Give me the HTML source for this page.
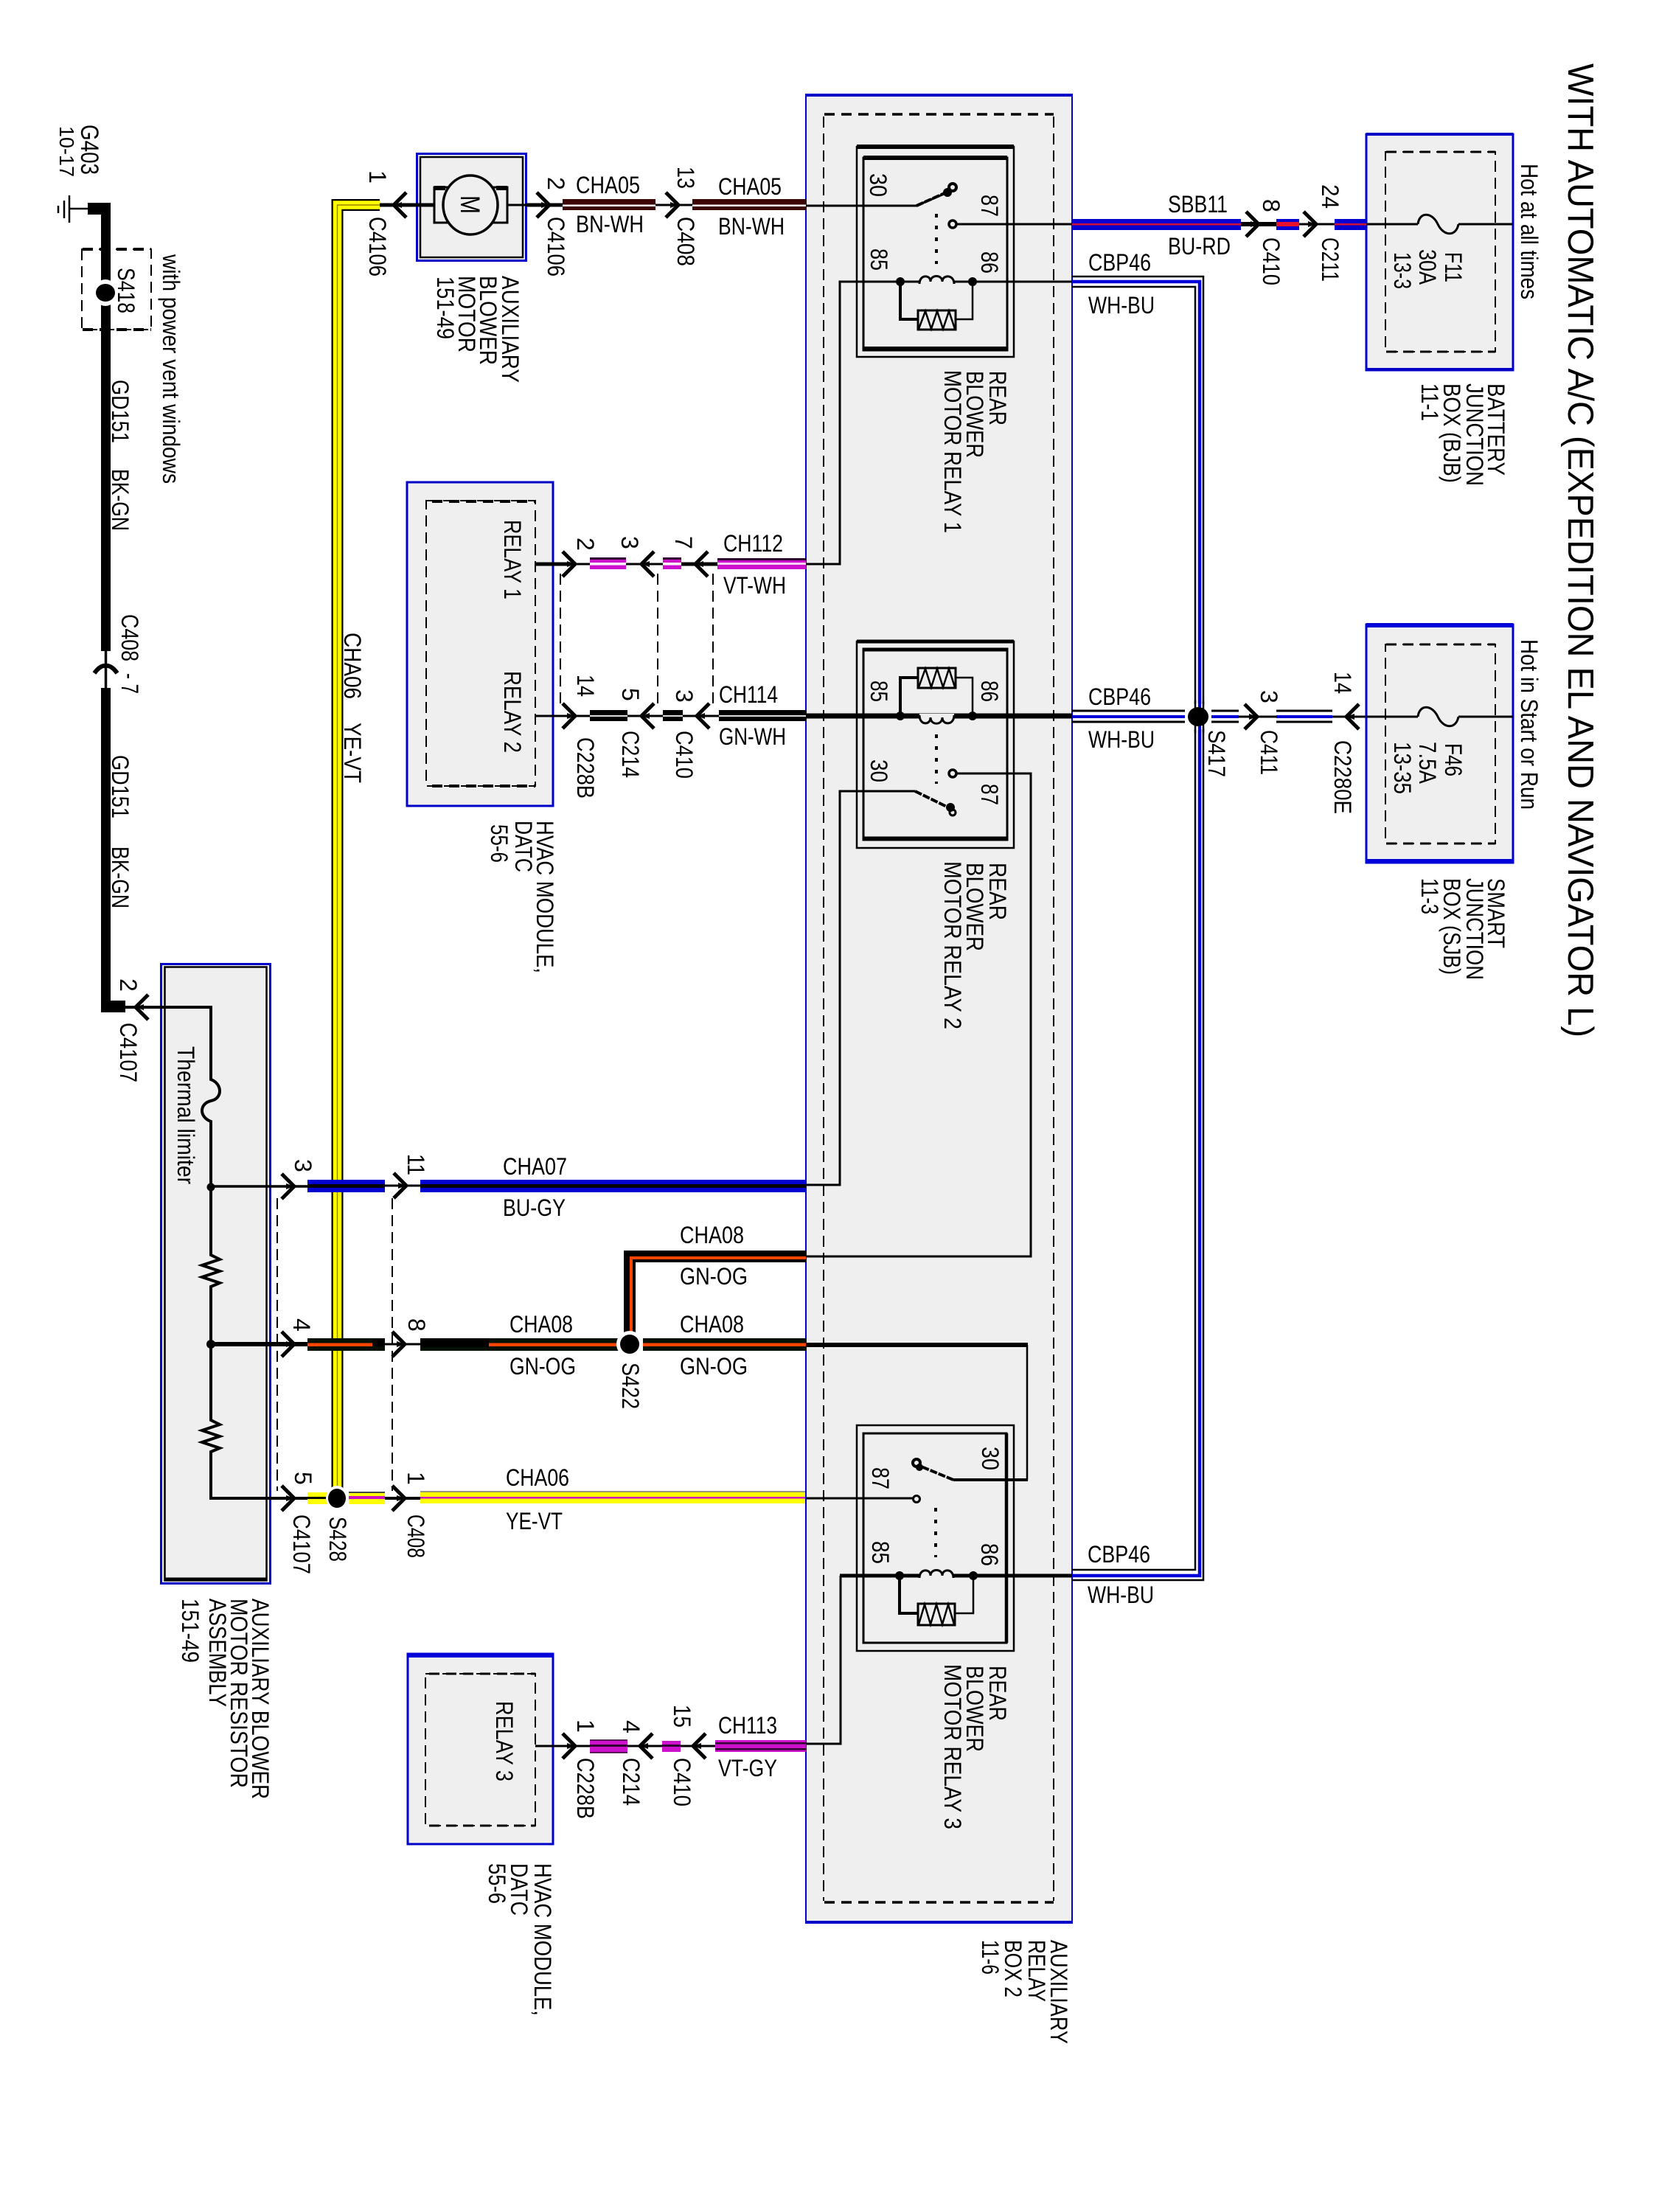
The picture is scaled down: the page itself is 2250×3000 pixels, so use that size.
<!DOCTYPE html>
<html><head><meta charset="utf-8"><title>Wiring diagram</title>
<style>
html,body{margin:0;padding:0;background:#fff}
svg{display:block}
text{font-family:"Liberation Sans",sans-serif;font-size:32px;fill:#000}
.w{fill:none;stroke:#000}
.box{fill:#efefef;stroke:#0000c8;stroke-width:3}
.ds{fill:none;stroke:#000;stroke-width:2;stroke-dasharray:15 8}
.dt{fill:none;stroke:#000;stroke-dasharray:14 9}
.f{fill:#000}
.t3{fill:none;stroke:#000;stroke-width:3}
</style></head><body>
<svg xmlns="http://www.w3.org/2000/svg" width="2250" height="3000" viewBox="0 0 2250 3000">
<defs>
<g id="cr"><path d="M-10,-17 Q-1,-8 7,0 Q-1,8 -10,17" fill="none" stroke="#000" stroke-width="5"/><path d="M-4,-4 L7,0 L-4,4 Z" fill="#000"/></g>
<g id="cl"><path d="M10,-17 Q1,-8 -7,0 Q1,8 10,17" fill="none" stroke="#000" stroke-width="5"/><path d="M4,-4 L-7,0 L4,4 Z" fill="#000"/></g>
</defs>
<rect width="2250" height="3000" fill="#fff"/>

<!-- Aux relay box -->
<rect class="box" x="1093" y="129" width="361" height="2479" style="stroke-width:2"/>
<path d="M1092,129H1455M1092,2607H1455" stroke="#0000c8" stroke-width="4"/>
<path class="ds" d="M1117,158V2578M1429,158V2578"/>
<path class="dt" d="M1118,155H1429M1118,2580H1429" stroke-width="3.5"/>

<!-- Relay boxes -->
<rect x="1162" y="199" width="213" height="285" fill="#efefef" stroke="#000" stroke-width="2.5"/>
<rect x="1171" y="214" width="195" height="261" fill="#efefef" stroke="#000" stroke-width="3"/>
<path d="M1162,199H1375M1171,214H1366M1171,473H1366" stroke="#000" stroke-width="6"/>
<rect x="1162" y="870" width="213" height="280" fill="#efefef" stroke="#000" stroke-width="2.5"/>
<rect x="1171" y="880" width="195" height="259" fill="#efefef" stroke="#000" stroke-width="3"/>
<path d="M1162,870H1375M1171,881H1366M1171,1137H1366" stroke="#000" stroke-width="5"/>
<rect x="1162" y="1933" width="213" height="306" fill="#efefef" stroke="#000" stroke-width="2.5"/>
<rect x="1171" y="1944" width="194" height="284" fill="#efefef" stroke="#000" stroke-width="3"/>
<path d="M1365,1944V2228" stroke="#000" stroke-width="4.5"/>

<!-- Relay 1 internals -->
<path class="t3" d="M1093,279H1243L1285,261"/>
<path d="M1243,279L1290,258" stroke="#000" stroke-width="4" stroke-dasharray="10 2"/>
<circle cx="1292" cy="254" r="5" fill="#efefef" stroke="#000" stroke-width="4"/>
<circle cx="1285" cy="261" r="6" class="f"/>
<path class="t3" d="M1296,304H1853"/>
<circle cx="1292" cy="304" r="5" fill="#efefef" stroke="#000" stroke-width="3.5"/>
<path d="M1270,290V358" stroke="#000" stroke-width="4" stroke-dasharray="5 11"/>
<path class="t3" d="M1093,765H1139V382H1247M1294,382H1454"/>
<path class="t3" d="M1247,385C1247,372 1262,372 1262,382C1262,372 1278,372 1278,382C1278,372 1294,372 1294,385"/>
<circle cx="1221" cy="382" r="6" class="f"/><circle cx="1319" cy="382" r="6" class="f"/>
<path d="M1221,382V433H1245" class="w" stroke-width="4"/><path d="M1319,382V433H1296" class="w" stroke-width="2.5"/>
<rect x="1245" y="421" width="51" height="26" fill="#efefef" stroke="#000" stroke-width="3"/>
<path d="M1246,446L1255,422L1263,446L1271,422L1279,446L1287,422L1295,446" class="w" stroke-width="2.5"/>

<!-- Relay 2 internals -->
<path d="M1093,971H1454" stroke="#000" stroke-width="7"/>
<path d="M1247,972H1294" stroke="#efefef" stroke-width="8"/>
<path class="t3" d="M1247,970C1247,984 1262,984 1262,973C1262,984 1278,984 1278,973C1278,984 1294,984 1294,970"/>
<circle cx="1221" cy="971" r="6" class="f"/><circle cx="1319" cy="971" r="6" class="f"/>
<path d="M1221,971V919H1245" class="w" stroke-width="4"/><path d="M1319,971V919H1296" class="w" stroke-width="2.5"/>
<rect x="1245" y="906" width="51" height="27" fill="#efefef" stroke="#000" stroke-width="3"/>
<path d="M1246,932L1255,907L1263,932L1271,907L1279,932L1287,907L1295,932" class="w" stroke-width="2.5"/>
<path d="M1270,996V1063" stroke="#000" stroke-width="4" stroke-dasharray="5 11"/>
<path class="t3" d="M1296,1049H1398V1704H1093"/>
<circle cx="1292" cy="1049" r="5" fill="#efefef" stroke="#000" stroke-width="3.5"/>
<path class="t3" d="M1093,1607H1139V1073H1241"/>
<path d="M1241,1073L1290,1097" stroke="#000" stroke-width="4" stroke-dasharray="10 2"/>
<circle cx="1292" cy="1102" r="4" fill="#efefef" stroke="#000" stroke-width="3"/>
<circle cx="1289" cy="1095" r="6" class="f"/>

<!-- Relay 3 internals -->
<path d="M1093,1824H1394" stroke="#000" stroke-width="6"/>
<path class="w" stroke-width="2.5" d="M1393,1824V2007"/>
<path d="M1394,2007H1293" stroke="#000" stroke-width="4"/>
<path d="M1293,2007L1247,1988" stroke="#000" stroke-width="4" stroke-dasharray="10 2"/>
<circle cx="1243" cy="1984" r="5" fill="#efefef" stroke="#000" stroke-width="4"/>
<circle cx="1247" cy="1990" r="5" class="f"/>
<path class="t3" d="M1093,2032H1239"/>
<circle cx="1243" cy="2033" r="4.5" fill="#efefef" stroke="#000" stroke-width="3"/>
<path d="M1269,2045V2112" stroke="#000" stroke-width="4" stroke-dasharray="5 11"/>
<path d="M1139,2137H1454" stroke="#000" stroke-width="5"/>
<path d="M1247,2137H1293" stroke="#efefef" stroke-width="7"/>
<path class="t3" d="M1247,2140C1247,2127 1262,2127 1262,2137C1262,2127 1278,2127 1278,2137C1278,2127 1293,2127 1293,2140"/>
<circle cx="1220" cy="2137" r="6" class="f"/><circle cx="1320" cy="2137" r="6" class="f"/>
<path d="M1220,2137V2188H1245" class="w" stroke-width="4"/><path d="M1320,2137V2188H1295" class="w" stroke-width="2.5"/>
<rect x="1245" y="2175" width="50" height="29" fill="#efefef" stroke="#000" stroke-width="3"/>
<path d="M1246,2203L1254,2176L1262,2203L1270,2176L1278,2203L1286,2176L1294,2203" class="w" stroke-width="2.5"/>
<path class="t3" d="M1140,2137V2365H1093"/>

<!-- Triple CBP46 loop -->
<path class="w" stroke-width="2.5" d="M1454,375H1632V2143H1454"/>
<path fill="none" stroke="#0000d8" stroke-width="4.5" d="M1454,382H1627V2137H1454"/>
<path class="w" stroke-width="2.5" d="M1454,389H1621V2129H1454"/>

<!-- Mid CBP46 -->
<path d="M1454,964H1607M1454,979H1607M1643,964H1680M1643,979H1680M1731,964H1807M1731,979H1807" stroke="#000" stroke-width="3"/>
<path d="M1454,972H1607M1643,972H1680M1731,972H1807" stroke="#0000d8" stroke-width="4"/>
<path d="M1680,972H1731M1807,972H1853" stroke="#000" stroke-width="3"/>
<ellipse cx="1625" cy="972" rx="18" ry="18" fill="#fff"/>
<path d="M1621,950V994M1632,950V994" stroke="#000" stroke-width="2.5"/>
<path d="M1627,950V994" stroke="#0000d8" stroke-width="4"/>
<ellipse cx="1625" cy="972" rx="14" ry="13" class="f"/>

<!-- Junction boxes -->
<rect class="box" x="1853" y="182" width="199" height="320"/>
<path d="M1853,182H2052M1853,501H2052" stroke="#0000c8" stroke-width="4"/>
<rect class="ds" x="1879" y="206" width="149" height="271"/>
<path class="dt" d="M1880,206H2028M1880,477H2028" stroke-width="3"/>
<path d="M1853,304H1923M1978,304H2052" stroke="#000" stroke-width="3"/>
<path class="t3" d="M1923,304C1925,287 1942,287 1950,304C1958,321 1975,321 1978,304"/>

<rect class="box" x="1853" y="847" width="199" height="323"/>
<path d="M1853,848H2052M1853,1168H2052" stroke="#0000d8" stroke-width="6"/>
<rect class="ds" x="1879" y="874" width="149" height="270"/>
<path class="dt" d="M1880,874H2028M1880,1144H2028" stroke-width="3"/>
<path d="M1853,972H1923M1978,972H2052" stroke="#000" stroke-width="3"/>
<path class="t3" d="M1923,972C1925,955 1942,955 1950,972C1958,989 1975,989 1978,972"/>

<!-- SBB11 wire -->
<rect x="1454" y="297" width="229" height="15" fill="#0000d0"/>
<rect x="1454" y="303" width="229" height="2.5" fill="#d0103a"/>
<path d="M1683,304H1731" stroke="#000" stroke-width="6"/>
<rect x="1731" y="297" width="31" height="15" fill="#0000d0"/><rect x="1731" y="301" width="31" height="6" fill="#e8102a"/>
<path d="M1762,304H1810" stroke="#000" stroke-width="3"/>
<rect x="1810" y="297" width="43" height="15" fill="#0000d0"/><rect x="1810" y="303" width="43" height="2.5" fill="#d0103a"/>
<use href="#cr" x="1700" y="304"/><use href="#cr" x="1778" y="304"/>
<use href="#cr" x="1698" y="972"/><use href="#cl" x="1833" y="972"/>

<!-- Motor -->
<rect x="565.5" y="208.5" width="148" height="145" fill="#efefef" stroke="#0000c8" stroke-width="3"/>
<rect x="570" y="213" width="139" height="136" fill="none" stroke="#000" stroke-width="2.5"/>
<path d="M589,254V302H688V254Z" fill="#efefef" stroke="#000" stroke-width="3"/>
<path d="M589,255H604M673,255H688" stroke="#000" stroke-width="6"/>
<ellipse cx="638" cy="278" rx="37" ry="40" fill="#efefef" stroke="#000" stroke-width="3.5"/>
<path d="M515,278H589" stroke="#000" stroke-width="5"/>
<path d="M688,278H714" stroke="#000" stroke-width="3"/>
<path d="M714,278H763" stroke="#000" stroke-width="5"/>
<text transform="translate(625,265) rotate(90)" textLength="25" lengthAdjust="spacingAndGlyphs" style="font-size:37px">M</text>

<!-- CHA05 -->
<rect x="763" y="270" width="126" height="15" fill="#3c0505"/><rect x="763" y="277.5" width="126" height="2.5" fill="#fff"/>
<path d="M889,278H939" stroke="#000" stroke-width="3"/>
<rect x="939" y="270" width="154" height="15" fill="#3c0505"/><rect x="939" y="277.5" width="154" height="2.5" fill="#fff"/>
<use href="#cl" x="541" y="278"/><use href="#cr" x="738" y="278"/><use href="#cr" x="913" y="278"/>

<!-- CHA06 long -->
<path d="M515,278H457.500V2032" class="w" stroke-width="16"/>
<path d="M515,278H457.500V2032" fill="none" stroke="#ffff00" stroke-width="11.500"/>
<path d="M515,278H457.500V2032" fill="none" stroke="#9a8000" stroke-width="1.500"/>

<!-- Ground wire -->
<path d="M143.500,275V883M143.500,933V1365" stroke="#000" stroke-width="13"/>
<rect x="119" y="275" width="31" height="16" class="f"/>
<rect x="137" y="1357" width="33" height="16" class="f"/>
<path d="M143.500,883V933" stroke="#000" stroke-width="3.500"/>
<path d="M128,913Q136,902 143.500,903Q151,902 159,913" fill="none" stroke="#000" stroke-width="6"/>
<path d="M94,283H119" stroke="#000" stroke-width="2.500"/>
<path d="M94,265V302M87,272V296M79,279V289" stroke="#000" stroke-width="2.500"/>
<rect x="111" y="338" width="94" height="109" class="ds"/>
<path class="dt" d="M112,338H205M112,447H205" stroke-width="4"/>
<ellipse cx="143" cy="397" rx="16" ry="18" fill="#fff"/>
<ellipse cx="143" cy="397" rx="13" ry="12" class="f"/>

<!-- Resistor assembly -->
<rect x="218.500" y="1307.500" width="148" height="840" fill="#efefef" stroke="#0000c8" stroke-width="3"/>
<rect x="223.500" y="1311.500" width="138" height="832" fill="none" stroke="#000" stroke-width="2.500"/>
<path d="M223,2142H362" stroke="#000" stroke-width="5"/>
<path class="w" stroke-width="4" d="M170,1366H286V1464C302,1470 302,1490 286,1493C270,1497 270,1515 286,1521V1702L298,1708L274,1716L298,1724L274,1732L298,1740L286,1745V1926L298,1932L274,1940L298,1948L274,1956L298,1964L286,1969V2032H417"/>
<circle cx="286" cy="1610" r="5.500" class="f"/><circle cx="286" cy="1823" r="6" class="f"/>
<path d="M286,1609H417" stroke="#000" stroke-width="3.500"/>
<path d="M286,1823H417" stroke="#000" stroke-width="6"/>
<use href="#cl" x="191" y="1366"/>
<path class="ds" d="M376,1625V2022M532,1625V2022"/>

<!-- Row 3 (CHA07) -->
<rect x="417" y="1600" width="105" height="17" fill="#0000d0"/><rect x="417" y="1606" width="105" height="5" class="f"/>
<rect x="570" y="1600" width="523" height="17" fill="#0000d0"/><rect x="570" y="1606" width="523" height="5" class="f"/>
<path d="M522,1608H570" stroke="#000" stroke-width="3"/>
<!-- Row 4 -->
<rect x="417" y="1815" width="105" height="17" fill="#041004"/><rect x="417" y="1821.500" width="105" height="4.500" fill="#ff4500"/>
<rect x="505" y="1816" width="17" height="10" class="f"/>
<path d="M522,1823H570" stroke="#000" stroke-width="3"/>
<rect x="570" y="1815" width="270" height="17" fill="#041004"/><rect x="570" y="1821.500" width="270" height="4.500" fill="#ff4500"/>
<rect x="570" y="1815" width="93" height="12" class="f"/>
<rect x="872" y="1815" width="221" height="17" fill="#041004"/><rect x="872" y="1821.500" width="221" height="4.500" fill="#ff4500"/>
<path d="M1093,1704H854V1812" class="w" stroke-width="16"/>
<path d="M1093,1706H856V1812" fill="none" stroke="#ff4500" stroke-width="4"/>
<ellipse cx="854" cy="1823" rx="18" ry="18" fill="#fff"/>
<ellipse cx="854" cy="1823" rx="13" ry="13" class="f"/>
<!-- Row 5 -->
<rect x="417" y="2024" width="28" height="16" fill="#ffff00"/><rect x="417" y="2030" width="28" height="3" fill="#000"/>
<ellipse cx="457" cy="2032" rx="15" ry="17" fill="#fff"/>
<ellipse cx="457" cy="2032" rx="12" ry="13" class="f"/>
<rect x="473" y="2024" width="49" height="16" fill="#ffff00"/><rect x="473" y="2029" width="49" height="4" fill="#d010c0"/>
<path d="M473,2024H522" stroke="#444" stroke-width="2"/>
<path d="M522,2032H570" stroke="#000" stroke-width="4"/>
<rect x="570" y="2023" width="522" height="16" fill="#ffff00"/><rect x="570" y="2030" width="522" height="2.500" fill="#d010c0"/>
<path d="M570,2023H1092" stroke="#777" stroke-width="1.500"/>
<use href="#cr" x="392" y="1609"/><use href="#cr" x="544" y="1608"/>
<use href="#cr" x="392" y="1823"/><use href="#cr" x="542" y="1823"/>
<use href="#cr" x="392" y="2032"/><use href="#cr" x="542" y="2032"/>

<!-- HVAC module upper -->
<rect class="box" x="552" y="654" width="198" height="439"/>
<rect class="ds" x="578" y="679" width="148" height="387"/>
<path class="dt" d="M586,680H726M586,1066H726" stroke-width="4"/>
<path d="M726,765H774" stroke="#000" stroke-width="5"/>
<path d="M774,765H800M849,765H899" stroke="#000" stroke-width="3"/>
<path d="M924,765H973" stroke="#000" stroke-width="5"/>
<rect x="800" y="756" width="49" height="16" fill="#cc10cc"/><rect x="800" y="756" width="49" height="3" fill="#300030"/><rect x="800" y="763" width="49" height="3.500" fill="#fff"/>
<rect x="899" y="756" width="25" height="16" fill="#cc10cc"/><rect x="899" y="756" width="25" height="3" fill="#300030"/><rect x="899" y="763" width="25" height="3.500" fill="#fff"/>
<rect x="973" y="757" width="120" height="15" fill="#cc10cc"/><rect x="973" y="757" width="120" height="3" fill="#300030"/><rect x="973" y="763" width="120" height="3" fill="#f8d0f8"/>
<use href="#cr" x="773" y="765"/><use href="#cl" x="877" y="765"/><use href="#cl" x="950" y="765"/>
<path class="ds" d="M760,778V958M892,778V958M967,778V958"/>
<path d="M726,971H800M851,971H899M926,971H975" stroke="#000" stroke-width="3"/>
<rect x="800" y="963" width="51" height="15" class="f"/><rect x="800" y="970" width="51" height="2" fill="#ddd"/>
<rect x="899" y="963" width="27" height="15" class="f"/><rect x="899" y="970" width="27" height="2" fill="#ddd"/>
<rect x="975" y="963" width="118" height="15" class="f"/><rect x="975" y="970" width="118" height="2" fill="#ddd"/>
<use href="#cr" x="773" y="971"/><use href="#cl" x="877" y="971"/><use href="#cl" x="952" y="971"/>

<!-- HVAC module lower -->
<rect class="box" x="553" y="2243" width="197" height="258"/>
<path d="M552,2245H751" stroke="#0000d8" stroke-width="6"/>
<rect class="ds" x="577" y="2270" width="149" height="206"/>
<path class="dt" d="M582,2270H726M582,2476H726" stroke-width="3"/>
<path d="M726,2368H800M851,2368H898M923,2368H970" stroke="#000" stroke-width="3"/>
<rect x="800" y="2360" width="51" height="17" fill="#cc10cc"/><rect x="800" y="2366" width="51" height="3" fill="#300030"/>
<path d="M800,2360H851M800,2377H851" stroke="#300030" stroke-width="1.500"/>
<rect x="898" y="2361" width="25" height="15" fill="#cc10cc"/><rect x="898" y="2366" width="25" height="3" fill="#300030"/>
<rect x="970" y="2360" width="123" height="16" fill="#cc10cc"/><rect x="970" y="2363" width="123" height="2.500" fill="#300030"/><rect x="970" y="2371" width="123" height="2.500" fill="#300030"/>
<use href="#cr" x="773" y="2368"/><use href="#cl" x="875" y="2368"/><use href="#cl" x="947" y="2368"/>

<!-- Horizontal labels -->
<text x="781" y="262" textLength="87" lengthAdjust="spacingAndGlyphs">CHA05</text>
<text x="781" y="315" textLength="92" lengthAdjust="spacingAndGlyphs">BN-WH</text>
<text x="974" y="264" textLength="86" lengthAdjust="spacingAndGlyphs">CHA05</text>
<text x="974" y="318" textLength="90" lengthAdjust="spacingAndGlyphs">BN-WH</text>
<text x="1584" y="288" textLength="81" lengthAdjust="spacingAndGlyphs">SBB11</text>
<text x="1584" y="345" textLength="85" lengthAdjust="spacingAndGlyphs">BU-RD</text>
<text x="1476" y="367" textLength="85" lengthAdjust="spacingAndGlyphs">CBP46</text>
<text x="1476" y="425" textLength="90" lengthAdjust="spacingAndGlyphs">WH-BU</text>
<text x="1476" y="956" textLength="85" lengthAdjust="spacingAndGlyphs">CBP46</text>
<text x="1476" y="1014" textLength="90" lengthAdjust="spacingAndGlyphs">WH-BU</text>
<text x="1475" y="2119" textLength="85" lengthAdjust="spacingAndGlyphs">CBP46</text>
<text x="1475" y="2174" textLength="90" lengthAdjust="spacingAndGlyphs">WH-BU</text>
<text x="981" y="748" textLength="81" lengthAdjust="spacingAndGlyphs">CH112</text>
<text x="981" y="805" textLength="85" lengthAdjust="spacingAndGlyphs">VT-WH</text>
<text x="975" y="953" textLength="80" lengthAdjust="spacingAndGlyphs">CH114</text>
<text x="975" y="1010" textLength="91" lengthAdjust="spacingAndGlyphs">GN-WH</text>
<text x="974" y="2351" textLength="80" lengthAdjust="spacingAndGlyphs">CH113</text>
<text x="974" y="2409" textLength="80" lengthAdjust="spacingAndGlyphs">VT-GY</text>
<text x="682" y="1593" textLength="87" lengthAdjust="spacingAndGlyphs">CHA07</text>
<text x="682" y="1649" textLength="85" lengthAdjust="spacingAndGlyphs">BU-GY</text>
<text x="922" y="1686" textLength="87" lengthAdjust="spacingAndGlyphs">CHA08</text>
<text x="922" y="1742" textLength="92" lengthAdjust="spacingAndGlyphs">GN-OG</text>
<text x="922" y="1807" textLength="87" lengthAdjust="spacingAndGlyphs">CHA08</text>
<text x="922" y="1864" textLength="92" lengthAdjust="spacingAndGlyphs">GN-OG</text>
<text x="691" y="1807" textLength="86" lengthAdjust="spacingAndGlyphs">CHA08</text>
<text x="691" y="1864" textLength="90" lengthAdjust="spacingAndGlyphs">GN-OG</text>
<text x="686" y="2015" textLength="86" lengthAdjust="spacingAndGlyphs">CHA06</text>
<text x="686" y="2074" textLength="77" lengthAdjust="spacingAndGlyphs">YE-VT</text>

<!-- Rotated labels -->
<text transform="translate(2127,86) rotate(90)" textLength="1321" lengthAdjust="spacingAndGlyphs" style="font-size:49px">WITH AUTOMATIC A/C (EXPEDITION EL AND NAVIGATOR L)</text>
<text transform="translate(2063,222) rotate(90)" textLength="184" lengthAdjust="spacingAndGlyphs">Hot at all times</text>
<text transform="translate(2063,867) rotate(90)" textLength="231" lengthAdjust="spacingAndGlyphs">Hot in Start or Run</text>
<text transform="translate(1960,342) rotate(90)" textLength="41" lengthAdjust="spacingAndGlyphs">F11</text>
<text transform="translate(1925,338) rotate(90)" textLength="48" lengthAdjust="spacingAndGlyphs">30A</text>
<text transform="translate(1891,342) rotate(90)" textLength="50" lengthAdjust="spacingAndGlyphs">13-3</text>
<text transform="translate(2018,520) rotate(90)" textLength="125" lengthAdjust="spacingAndGlyphs">BATTERY</text>
<text transform="translate(1989,520) rotate(90)" textLength="139" lengthAdjust="spacingAndGlyphs">JUNCTION</text>
<text transform="translate(1958,520) rotate(90)" textLength="135" lengthAdjust="spacingAndGlyphs">BOX (BJB)</text>
<text transform="translate(1928,520) rotate(90)" textLength="51" lengthAdjust="spacingAndGlyphs">11-1</text>
<text transform="translate(1960,1008) rotate(90)" textLength="45" lengthAdjust="spacingAndGlyphs">F46</text>
<text transform="translate(1925,1006) rotate(90)" textLength="57" lengthAdjust="spacingAndGlyphs">7.5A</text>
<text transform="translate(1891,1006) rotate(90)" textLength="71" lengthAdjust="spacingAndGlyphs">13-35</text>
<text transform="translate(2018,1191) rotate(90)" textLength="95" lengthAdjust="spacingAndGlyphs">SMART</text>
<text transform="translate(1989,1191) rotate(90)" textLength="138" lengthAdjust="spacingAndGlyphs">JUNCTION</text>
<text transform="translate(1958,1191) rotate(90)" textLength="131" lengthAdjust="spacingAndGlyphs">BOX (SJB)</text>
<text transform="translate(1928,1191) rotate(90)" textLength="49" lengthAdjust="spacingAndGlyphs">11-3</text>

<text transform="translate(1713,270) rotate(90)">8</text>
<text transform="translate(1713,322) rotate(90)" textLength="65" lengthAdjust="spacingAndGlyphs">C410</text>
<text transform="translate(1793,250) rotate(90)" textLength="33" lengthAdjust="spacingAndGlyphs">24</text>
<text transform="translate(1793,322) rotate(90)" textLength="60" lengthAdjust="spacingAndGlyphs">C211</text>
<text transform="translate(1639,990) rotate(90)" textLength="64" lengthAdjust="spacingAndGlyphs">S417</text>
<text transform="translate(1710,990) rotate(90)" textLength="61" lengthAdjust="spacingAndGlyphs">C411</text>
<text transform="translate(1710,936) rotate(90)">3</text>
<text transform="translate(1810,911) rotate(90)" textLength="30" lengthAdjust="spacingAndGlyphs">14</text>
<text transform="translate(1810,1004) rotate(90)" textLength="100" lengthAdjust="spacingAndGlyphs">C2280E</text>

<!-- relay 1 pins -->
<text transform="translate(1180,235) rotate(90)" textLength="32" lengthAdjust="spacingAndGlyphs">30</text>
<text transform="translate(1331,264) rotate(90)" textLength="30" lengthAdjust="spacingAndGlyphs">87</text>
<text transform="translate(1181,337) rotate(90)" textLength="30" lengthAdjust="spacingAndGlyphs">85</text>
<text transform="translate(1331,341) rotate(90)" textLength="30" lengthAdjust="spacingAndGlyphs">86</text>
<text transform="translate(1342,503) rotate(90)" textLength="74" lengthAdjust="spacingAndGlyphs">REAR</text>
<text transform="translate(1311,503) rotate(90)" textLength="118" lengthAdjust="spacingAndGlyphs">BLOWER</text>
<text transform="translate(1281,502) rotate(90)" textLength="221" lengthAdjust="spacingAndGlyphs">MOTOR RELAY 1</text>
<!-- relay 2 pins -->
<text transform="translate(1181,923) rotate(90)" textLength="29" lengthAdjust="spacingAndGlyphs">85</text>
<text transform="translate(1331,923) rotate(90)" textLength="29" lengthAdjust="spacingAndGlyphs">86</text>
<text transform="translate(1181,1030) rotate(90)" textLength="31" lengthAdjust="spacingAndGlyphs">30</text>
<text transform="translate(1331,1063) rotate(90)" textLength="29" lengthAdjust="spacingAndGlyphs">87</text>
<text transform="translate(1342,1170) rotate(90)" textLength="78" lengthAdjust="spacingAndGlyphs">REAR</text>
<text transform="translate(1311,1170) rotate(90)" textLength="120" lengthAdjust="spacingAndGlyphs">BLOWER</text>
<text transform="translate(1281,1168) rotate(90)" textLength="228" lengthAdjust="spacingAndGlyphs">MOTOR RELAY 2</text>
<!-- relay 3 pins -->
<text transform="translate(1183,1990) rotate(90)" textLength="30" lengthAdjust="spacingAndGlyphs">87</text>
<text transform="translate(1332,1962) rotate(90)" textLength="32" lengthAdjust="spacingAndGlyphs">30</text>
<text transform="translate(1183,2090) rotate(90)" textLength="31" lengthAdjust="spacingAndGlyphs">85</text>
<text transform="translate(1331,2093) rotate(90)" textLength="31" lengthAdjust="spacingAndGlyphs">86</text>
<text transform="translate(1342,2259) rotate(90)" textLength="75" lengthAdjust="spacingAndGlyphs">REAR</text>
<text transform="translate(1311,2259) rotate(90)" textLength="117" lengthAdjust="spacingAndGlyphs">BLOWER</text>
<text transform="translate(1281,2257) rotate(90)" textLength="224" lengthAdjust="spacingAndGlyphs">MOTOR RELAY 3</text>
<text transform="translate(1425,2631) rotate(90)" textLength="141" lengthAdjust="spacingAndGlyphs">AUXILIARY</text>
<text transform="translate(1395,2631) rotate(90)" textLength="84" lengthAdjust="spacingAndGlyphs">RELAY</text>
<text transform="translate(1363,2631) rotate(90)" textLength="78" lengthAdjust="spacingAndGlyphs">BOX 2</text>
<text transform="translate(1332,2631) rotate(90)" textLength="47" lengthAdjust="spacingAndGlyphs">11-6</text>

<!-- motor area -->
<text transform="translate(501,231) rotate(90)">1</text>
<text transform="translate(501,294) rotate(90)" textLength="81" lengthAdjust="spacingAndGlyphs">C4106</text>
<text transform="translate(743,240) rotate(90)">2</text>
<text transform="translate(743,294) rotate(90)" textLength="81" lengthAdjust="spacingAndGlyphs">C4106</text>
<text transform="translate(919,226) rotate(90)" textLength="30" lengthAdjust="spacingAndGlyphs">13</text>
<text transform="translate(919,294) rotate(90)" textLength="67" lengthAdjust="spacingAndGlyphs">C408</text>
<text transform="translate(681,374) rotate(90)" textLength="145" lengthAdjust="spacingAndGlyphs">AUXILIARY</text>
<text transform="translate(651,374) rotate(90)" textLength="121" lengthAdjust="spacingAndGlyphs">BLOWER</text>
<text transform="translate(622,374) rotate(90)" textLength="104" lengthAdjust="spacingAndGlyphs">MOTOR</text>
<text transform="translate(593,375) rotate(90)" textLength="85" lengthAdjust="spacingAndGlyphs">151-49</text>

<!-- left -->
<text transform="translate(110,169) rotate(90)" textLength="68" lengthAdjust="spacingAndGlyphs" style="font-size:34px">G403</text>
<text transform="translate(81,171) rotate(90)" textLength="69" lengthAdjust="spacingAndGlyphs" style="font-size:28px">10-17</text>
<text transform="translate(160,363) rotate(90)" textLength="62" lengthAdjust="spacingAndGlyphs">S418</text>
<text transform="translate(221,345) rotate(90)" textLength="311" lengthAdjust="spacingAndGlyphs">with power vent windows</text>
<text transform="translate(152,515) rotate(90)" textLength="86" lengthAdjust="spacingAndGlyphs">GD151</text>
<text transform="translate(152,636) rotate(90)" textLength="84" lengthAdjust="spacingAndGlyphs">BK-GN</text>
<text transform="translate(152,1024) rotate(90)" textLength="86" lengthAdjust="spacingAndGlyphs">GD151</text>
<text transform="translate(152,1148) rotate(90)" textLength="84" lengthAdjust="spacingAndGlyphs">BK-GN</text>
<text transform="translate(165,833) rotate(90)" textLength="64" lengthAdjust="spacingAndGlyphs">C408</text>
<text transform="translate(165,913) rotate(90)" textLength="28" lengthAdjust="spacingAndGlyphs">- 7</text>

<!-- HVAC -->
<text transform="translate(684,705) rotate(90)" textLength="108" lengthAdjust="spacingAndGlyphs">RELAY 1</text>
<text transform="translate(684,910) rotate(90)" textLength="111" lengthAdjust="spacingAndGlyphs">RELAY 2</text>
<text transform="translate(783,729) rotate(90)">2</text>
<text transform="translate(843,727) rotate(90)">3</text>
<text transform="translate(916,727) rotate(90)">7</text>
<text transform="translate(783,915) rotate(90)" textLength="30" lengthAdjust="spacingAndGlyphs">14</text>
<text transform="translate(844,933) rotate(90)">5</text>
<text transform="translate(917,935) rotate(90)">3</text>
<text transform="translate(783,1000) rotate(90)" textLength="83" lengthAdjust="spacingAndGlyphs">C228B</text>
<text transform="translate(844,991) rotate(90)" textLength="64" lengthAdjust="spacingAndGlyphs">C214</text>
<text transform="translate(917,991) rotate(90)" textLength="65" lengthAdjust="spacingAndGlyphs">C410</text>
<text transform="translate(728,1113) rotate(90)" textLength="207" lengthAdjust="spacingAndGlyphs">HVAC MODULE,</text>
<text transform="translate(699,1113) rotate(90)" textLength="70" lengthAdjust="spacingAndGlyphs">DATC</text>
<text transform="translate(666,1118) rotate(90)" textLength="52" lengthAdjust="spacingAndGlyphs">55-6</text>
<text transform="translate(673,2307) rotate(90)" textLength="109" lengthAdjust="spacingAndGlyphs">RELAY 3</text>
<text transform="translate(783,2332) rotate(90)">1</text>
<text transform="translate(845,2333) rotate(90)">4</text>
<text transform="translate(914,2312) rotate(90)" textLength="31" lengthAdjust="spacingAndGlyphs">15</text>
<text transform="translate(783,2384) rotate(90)" textLength="83" lengthAdjust="spacingAndGlyphs">C228B</text>
<text transform="translate(845,2384) rotate(90)" textLength="65" lengthAdjust="spacingAndGlyphs">C214</text>
<text transform="translate(914,2384) rotate(90)" textLength="66" lengthAdjust="spacingAndGlyphs">C410</text>
<text transform="translate(725,2527) rotate(90)" textLength="207" lengthAdjust="spacingAndGlyphs">HVAC MODULE,</text>
<text transform="translate(693,2527) rotate(90)" textLength="71" lengthAdjust="spacingAndGlyphs">DATC</text>
<text transform="translate(663,2527) rotate(90)" textLength="55" lengthAdjust="spacingAndGlyphs">55-6</text>

<!-- resistor assembly labels -->
<text transform="translate(163,1327) rotate(90)">2</text>
<text transform="translate(163,1387) rotate(90)" textLength="81" lengthAdjust="spacingAndGlyphs">C4107</text>
<text transform="translate(241,1419) rotate(90)" textLength="187" lengthAdjust="spacingAndGlyphs">Thermal limiter</text>
<text transform="translate(400,1572) rotate(90)">3</text>
<text transform="translate(553,1565) rotate(90)" textLength="29" lengthAdjust="spacingAndGlyphs">11</text>
<text transform="translate(398,1788) rotate(90)">4</text>
<text transform="translate(554,1788) rotate(90)">8</text>
<text transform="translate(400,1996) rotate(90)">5</text>
<text transform="translate(553,1996) rotate(90)">1</text>
<text transform="translate(398,2054) rotate(90)" textLength="81" lengthAdjust="spacingAndGlyphs">C4107</text>
<text transform="translate(447,2057) rotate(90)" textLength="61" lengthAdjust="spacingAndGlyphs">S428</text>
<text transform="translate(553,2054) rotate(90)" textLength="59" lengthAdjust="spacingAndGlyphs">C408</text>
<text transform="translate(844,1848) rotate(90)" textLength="63" lengthAdjust="spacingAndGlyphs">S422</text>
<text transform="translate(342,2168) rotate(90)" textLength="272" lengthAdjust="spacingAndGlyphs">AUXILIARY BLOWER</text>
<text transform="translate(313,2168) rotate(90)" textLength="257" lengthAdjust="spacingAndGlyphs">MOTOR RESISTOR</text>
<text transform="translate(284,2168) rotate(90)" textLength="147" lengthAdjust="spacingAndGlyphs">ASSEMBLY</text>
<text transform="translate(247,2168) rotate(90)" textLength="87" lengthAdjust="spacingAndGlyphs">151-49</text>

<text transform="translate(467,858) rotate(90)" textLength="90" lengthAdjust="spacingAndGlyphs">CHA06</text>
<text transform="translate(467,980) rotate(90)" textLength="82" lengthAdjust="spacingAndGlyphs">YE-VT</text>
</svg>
</body></html>
